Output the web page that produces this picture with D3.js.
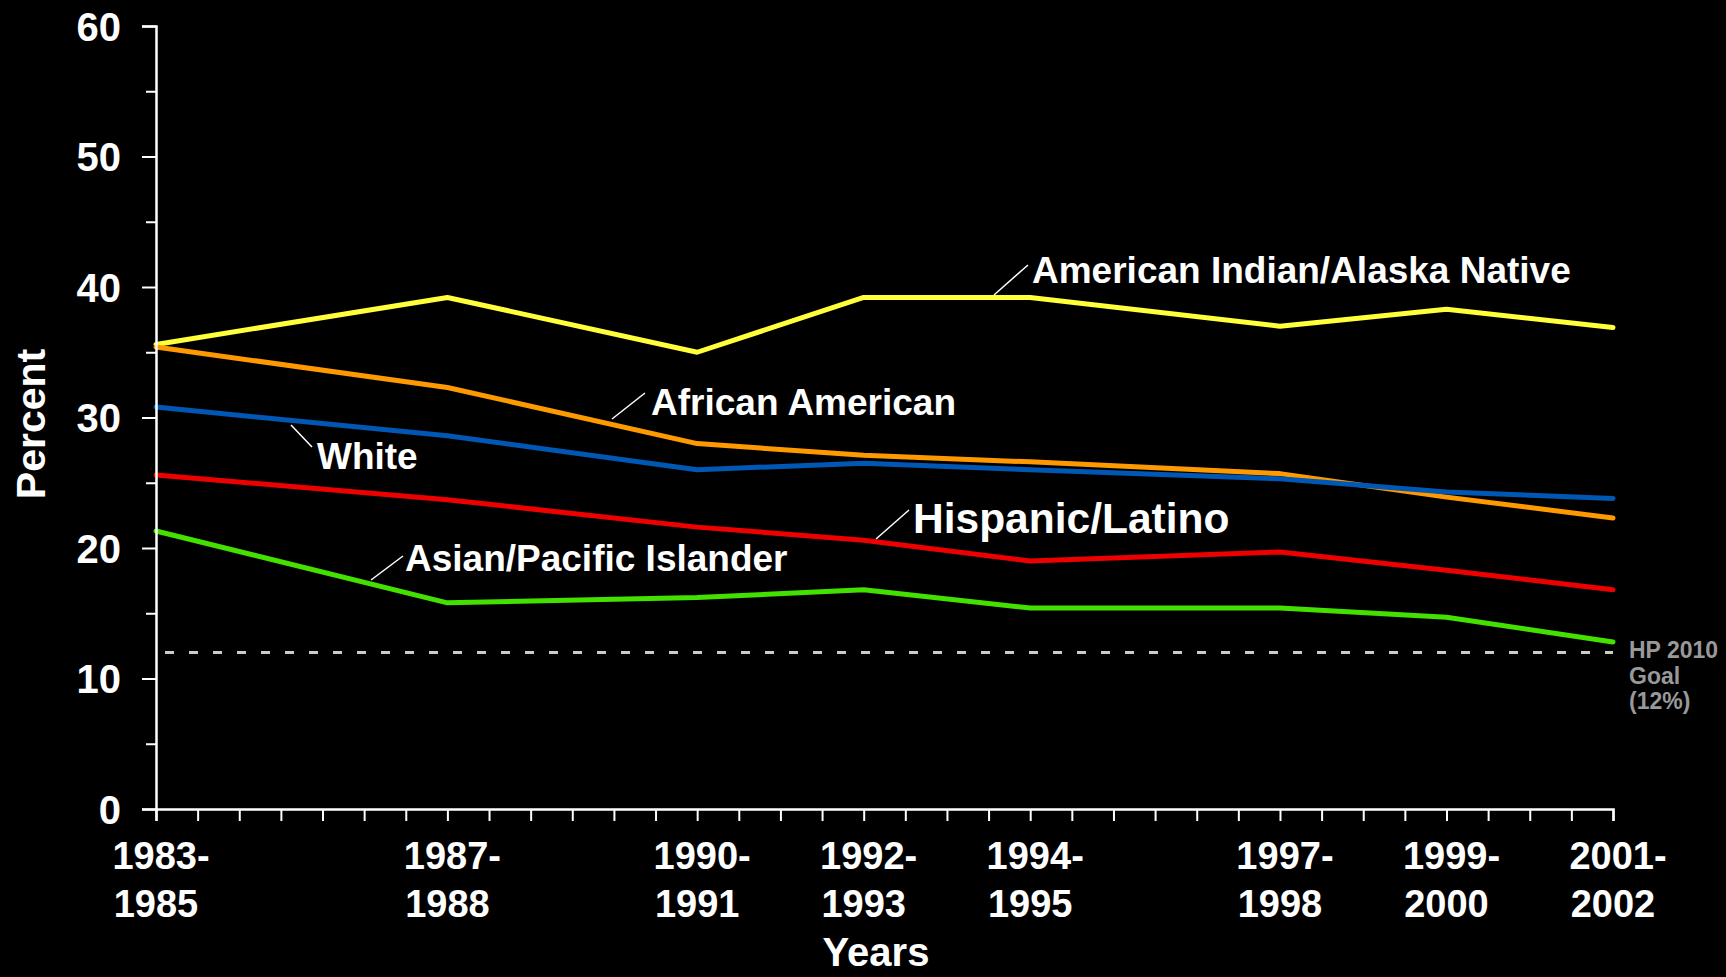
<!DOCTYPE html>
<html>
<head>
<meta charset="utf-8">
<script src="https://cdn.jsdelivr.net/npm/d3@7/dist/d3.min.js"></script>
<style>
  html, body { margin: 0; padding: 0; background: #000; }
  svg { display: block; }
  text { font-family: "Liberation Sans", Arial, Helvetica, sans-serif; font-weight: bold; }
</style>
</head>
<body>
<svg id="chart" width="1726" height="977"></svg>
<script>
// ---- data ----
const periods = ["1983-1985","1987-1988","1990-1991","1992-1993","1994-1995","1997-1998","1999-2000","2001-2002"];
const periodMid = [1984, 1987.5, 1990.5, 1992.5, 1994.5, 1997.5, 1999.5, 2001.5];
const americanIndian = [35.6, 39.2, 35.0, 39.2, 39.2, 37.0, 38.3, 36.9];
const africanAmerican = [35.4, 32.3, 28.0, 27.1, 26.6, 25.7, 23.9, 22.3];
const white = [30.8, 28.6, 26.0, 26.5, 26.0, 25.3, 24.3, 23.8];
const hispanic = [25.6, 23.7, 21.6, 20.6, 19.0, 19.7, 18.3, 16.8];
const asianPI = [21.3, 15.8, 16.2, 16.8, 15.4, 15.4, 14.7, 12.8];
const goal = 12;
const yMajorTicks = [0, 10, 20, 30, 40, 50, 60];
const yMinorTicks = [5, 15, 25, 35, 45, 55];

const series = [
  { name: "American Indian/Alaska Native", values: americanIndian, color: "#ffff3a" },
  { name: "African American", values: africanAmerican, color: "#ff9900" },
  { name: "White", values: white, color: "#0058b4" },
  { name: "Hispanic/Latino", values: hispanic, color: "#ee0000" },
  { name: "Asian/Pacific Islander", values: asianPI, color: "#44e000" }
];

// ---- layout ----
const svg = d3.select("#chart");
svg.append("rect").attr("width", 1726).attr("height", 977).attr("fill", "#000");

const x = d3.scaleLinear().domain([1984, 2001.5]).range([156, 1613]);
const y = d3.scaleLinear().domain([0, 60]).range([809, 26]);

// goal dashed line
svg.append("line")
  .attr("x1", x(1984)).attr("x2", x(2001.5))
  .attr("y1", y(goal)).attr("y2", y(goal))
  .attr("stroke", "#cccccc").attr("stroke-width", 3)
  .attr("stroke-dasharray", "9,15")
  .attr("stroke-dashoffset", -9);

// series lines
const line = d3.line().x((d, i) => x(periodMid[i])).y(d => y(d));
series.forEach(s => {
  svg.append("path")
    .datum(s.values)
    .attr("d", line)
    .attr("fill", "none")
    .attr("stroke", s.color)
    .attr("stroke-width", 5)
    .attr("stroke-linejoin", "round")
    .attr("stroke-linecap", "round");
});

// y axis
const yAxisMajor = d3.axisLeft(y).tickValues(yMajorTicks).tickSize(14).tickPadding(21).tickFormat(d3.format("d"));
const gy = svg.append("g").attr("transform", `translate(${x(1984)},0)`).call(yAxisMajor);
const gyMinor = svg.append("g").attr("transform", `translate(${x(1984)},0)`)
  .call(d3.axisLeft(y).tickValues(yMinorTicks).tickSize(10).tickFormat(""));
gyMinor.select(".domain").remove();
[gy, gyMinor].forEach(g => {
  g.selectAll("line").attr("stroke", "#fff").attr("stroke-width", 2);
  g.selectAll(".domain").attr("stroke", "#fff").attr("stroke-width", 2.5);
});
gy.selectAll("text").attr("fill", "#fff").style("font-size", "40px").attr("font-weight", "bold").attr("dy", "0.36em");

// x axis (half-year minor ticks)
const xTicks = d3.range(1984, 2001.51, 0.5);
const gx = svg.append("g").attr("transform", `translate(0,${y(0)})`)
  .call(d3.axisBottom(x).tickValues(xTicks).tickSize(12).tickFormat(""));
gx.selectAll("line").attr("stroke", "#fff").attr("stroke-width", 2);
gx.select(".domain").attr("stroke", "#fff").attr("stroke-width", 2.5);

// x tick labels (two lines)
const xl = svg.append("g");
periods.forEach((p, i) => {
  const [a, b] = p.split("-");
  const t = xl.append("text")
    .attr("x", x(periodMid[i]))
    .attr("text-anchor", "middle")
    .attr("fill", "#fff")
    .style("font-size", "38px");
  t.append("tspan").attr("x", x(periodMid[i]) + 5).attr("y", 869).text(a + "-");
  t.append("tspan").attr("x", x(periodMid[i])).attr("y", 917).text(b);
});

// axis titles
svg.append("text").attr("x", 876).attr("y", 966).attr("text-anchor", "middle")
  .attr("fill", "#fff").style("font-size", "40px").text("Years");
svg.append("text").attr("transform", "translate(45,424) rotate(-90)").attr("text-anchor", "middle")
  .attr("fill", "#fff").style("font-size", "41px").text("Percent");

// series labels with leader lines
const labels = [
  { text: "American Indian/Alaska Native", x: 1032, y: 283, size: 37, l: [994, 295, 1028, 265] },
  { text: "African American", x: 651, y: 415, size: 37, l: [612, 419, 645, 393] },
  { text: "White", x: 317, y: 469, size: 37, l: [291, 425, 312, 447] },
  { text: "Hispanic/Latino", x: 913, y: 533, size: 42.5, l: [876, 539, 909, 510] },
  { text: "Asian/Pacific Islander", x: 405, y: 571, size: 37, l: [371, 580, 403, 556] }
];
labels.forEach(d => {
  svg.append("line").attr("x1", d.l[0]).attr("y1", d.l[1]).attr("x2", d.l[2]).attr("y2", d.l[3])
    .attr("stroke", "#fff").attr("stroke-width", 1.5);
  svg.append("text").attr("x", d.x).attr("y", d.y).attr("fill", "#fff")
    .style("font-size", d.size + "px").text(d.text);
});

// goal label
const goalLines = ["HP 2010", "Goal", "(12%)"];
goalLines.forEach((t, i) => {
  svg.append("text").attr("x", 1629).attr("y", 658 + i * 25.5)
    .attr("fill", "#999999").style("font-size", "23px").text(t);
});
</script>
</body>
</html>
